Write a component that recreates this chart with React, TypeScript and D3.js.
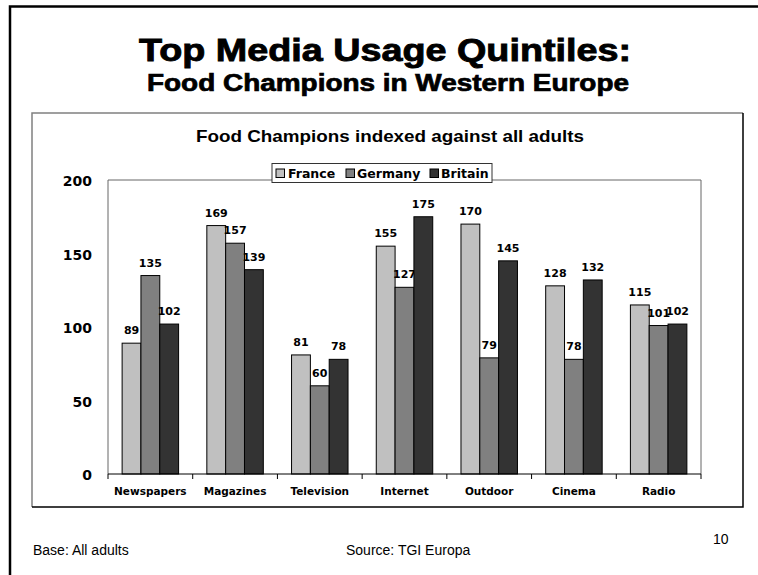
import React from "react";
import * as d3 from "d3";

const categories = ["Newspapers", "Magazines", "Television", "Internet", "Outdoor", "Cinema", "Radio"];
const seriesNames = ["France", "Germany", "Britain"];
const franceValues = [89, 169, 81, 155, 170, 128, 115];
const germanyValues = [135, 157, 60, 127, 79, 78, 101];
const britainValues = [102, 139, 78, 175, 145, 132, 102];
const yTicks = [0, 50, 100, 150, 200];
const seriesColors = ["#C0C0C0", "#808080", "#333333"];

const W = 758;
const H = 575;
const plot = { left: 108, right: 701, top: 180, bottom: 474 };
const BOLD = "'DejaVu Sans', sans-serif";
const ARIAL = "'Liberation Sans', Arial, sans-serif";

export default function App() {
  const values = [franceValues, germanyValues, britainValues];
  const x0 = d3.scaleBand<string>().domain(categories).range([plot.left, plot.right]).paddingInner(0).paddingOuter(0);
  const x1 = d3.scaleBand<string>().domain(seriesNames).range([0, x0.bandwidth()]).paddingInner(0).paddingOuter(0.75);
  const y = d3.scaleLinear().domain([0, 200]).range([plot.bottom, plot.top]);

  const legendItems = [
    { name: "France", sx: 276, tx: 288 },
    { name: "Germany", sx: 346, tx: 357 },
    { name: "Britain", sx: 430, tx: 441 },
  ];

  return (
    <svg width={W} height={H} style={{ position: "absolute", left: 0, top: 0, background: "#fff" }}>
      {/* outer frame */}
      <path d={`M10,${H} V6.5 H${W}`} fill="none" stroke="#000" strokeWidth={2.5} />

      {/* titles */}
      <text x={385} y={61} textAnchor="middle" fontFamily={ARIAL} fontWeight="bold" fontSize={32}
        stroke="#000" strokeWidth={0.9} textLength={492} lengthAdjust="spacingAndGlyphs">
        Top Media Usage Quintiles:
      </text>
      <text x={388} y={91} textAnchor="middle" fontFamily={ARIAL} fontWeight="bold" fontSize={23}
        stroke="#000" strokeWidth={0.7} textLength={482} lengthAdjust="spacingAndGlyphs">
        Food Champions in Western Europe
      </text>

      {/* inner chart box */}
      <path d="M32,507 V113 H743" fill="none" stroke="#808080" strokeWidth={1.5} />
      <path d="M743,113 V507 H32" fill="none" stroke="#000" strokeWidth={1.5} />

      <text x={390} y={142} textAnchor="middle" fontFamily={ARIAL} fontWeight="bold" fontSize={17}
        textLength={388} lengthAdjust="spacingAndGlyphs">
        Food Champions indexed against all adults
      </text>

      {/* plot area border */}
      <path d={`M${plot.left},${plot.bottom} V${plot.top} H${plot.right} V${plot.bottom}`} fill="none" stroke="#666" strokeWidth={1} />

      {/* bars */}
      {categories.map((c, ci) => (
        <g key={c} transform={`translate(${x0(c)},0)`}>
          {seriesNames.map((s, si) => {
            const v = values[si][ci];
            const bx = x1(s)!;
            return (
              <g key={s}>
                <rect x={bx} y={y(v)} width={x1.bandwidth()} height={y(0) - y(v)}
                  fill={seriesColors[si]} stroke="#000" strokeWidth={1} />
                <text x={bx + x1.bandwidth() / 2} y={y(v) - 9} textAnchor="middle"
                  fontFamily={BOLD} fontWeight="bold" fontSize={11} fill="#000">
                  {v}
                </text>
              </g>
            );
          })}
        </g>
      ))}

      {/* x axis */}
      <line x1={plot.left} x2={plot.right} y1={plot.bottom} y2={plot.bottom} stroke="#000" strokeWidth={1} />
      {d3.range(categories.length + 1).map((i) => {
        const xx = plot.left + i * x0.step();
        return <line key={i} x1={xx} x2={xx} y1={plot.bottom} y2={plot.bottom + 5} stroke="#000" strokeWidth={1} />;
      })}
      {categories.map((c) => (
        <text key={c} x={x0(c)! + x0.bandwidth() / 2} y={494.5} textAnchor="middle"
          fontFamily={BOLD} fontWeight="bold" fontSize={10.5} fill="#000">
          {c}
        </text>
      ))}

      {/* y labels */}
      {yTicks.map((t) => (
        <text key={t} x={92} y={y(t) + 6} textAnchor="end" fontFamily={BOLD} fontWeight="bold" fontSize={14} fill="#000">
          {t}
        </text>
      ))}

      {/* legend */}
      <rect x={272} y={163.5} width={220} height={19} fill="#fff" stroke="#333" strokeWidth={1} />
      {legendItems.map((it, i) => (
        <g key={it.name}>
          <rect x={it.sx} y={169} width={8.5} height={8.5} fill={seriesColors[i]} stroke="#000" strokeWidth={1} />
          <text x={it.tx} y={178} fontFamily={BOLD} fontWeight="bold" fontSize={12.5} fill="#000">
            {it.name}
          </text>
        </g>
      ))}

      {/* footer */}
      <text x={33} y={555} fontFamily={ARIAL} fontSize={14} fill="#000">Base: All adults</text>
      <text x={346} y={555} fontFamily={ARIAL} fontSize={14} fill="#000">Source: TGI Europa</text>
      <text x={713} y={544} fontFamily={ARIAL} fontSize={14} fill="#000">10</text>
    </svg>
  );
}
